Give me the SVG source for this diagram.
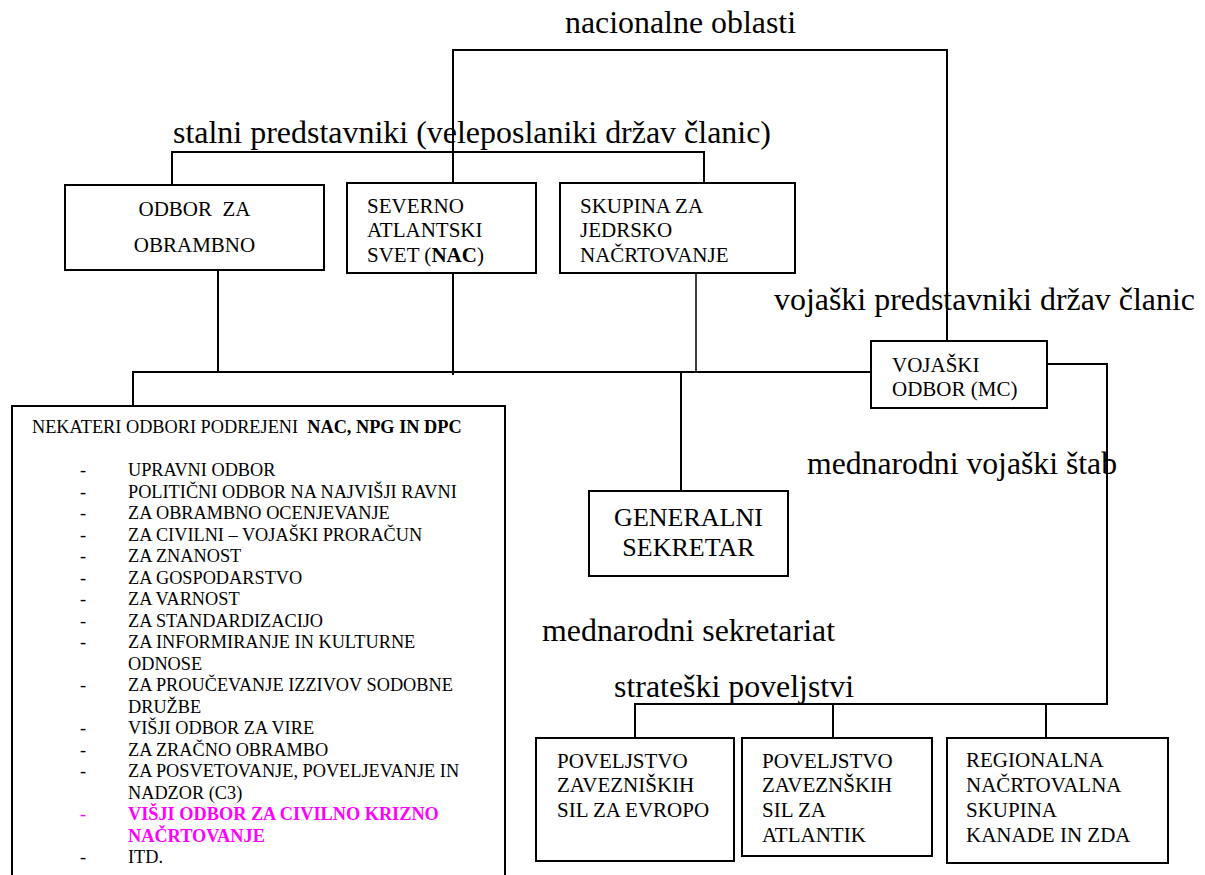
<svg xmlns="http://www.w3.org/2000/svg" width="1205" height="875" viewBox="0 0 1205 875">
<rect x="0" y="0" width="1205" height="875" fill="#fff"/>

<g id="connectors" fill="none" stroke="#000" stroke-width="2">
<path d="M453,183 V50 H947 V341"/>
<path d="M172,185 V152 H704 V183"/>
<path d="M218,270 V372"/>
<path d="M453,273 V375"/>
<path d="M696,270 V372" stroke-width="1.5"/>
<path d="M133,406 V372 H871"/>
<path d="M681,372 V491"/>
<path d="M1047,364 H1107 V704 H635 V738"/>
<path d="M833,704 V738"/>
<path d="M1046,704 V738"/>
</g>

<g id="label-nacionalne">
<text font-family="Times New Roman, Liberation Serif, serif" font-size="32" x="565" y="33" textLength="231" lengthAdjust="spacingAndGlyphs">nacionalne oblasti</text>
</g>
<g id="label-stalni">
<text font-family="Times New Roman, Liberation Serif, serif" font-size="32" x="173" y="143" textLength="598" lengthAdjust="spacingAndGlyphs">stalni predstavniki (veleposlaniki držav članic)</text>
</g>
<g id="label-vojaski-predstavniki">
<text font-family="Times New Roman, Liberation Serif, serif" font-size="32" x="774" y="310" textLength="421" lengthAdjust="spacingAndGlyphs">vojaški predstavniki držav članic</text>
</g>
<g id="label-mednarodni-stab">
<text font-family="Times New Roman, Liberation Serif, serif" font-size="32" x="807" y="474" textLength="310" lengthAdjust="spacingAndGlyphs">mednarodni vojaški štab</text>
</g>
<g id="label-mednarodni-sekretariat">
<text font-family="Times New Roman, Liberation Serif, serif" font-size="32" x="542" y="641" textLength="293" lengthAdjust="spacingAndGlyphs">mednarodni sekretariat</text>
</g>
<g id="label-strateski">
<text font-family="Times New Roman, Liberation Serif, serif" font-size="32" x="614" y="697" textLength="240" lengthAdjust="spacingAndGlyphs">strateški poveljstvi</text>
</g>

<g id="node-odbor-obrambno">
<rect x="65" y="185" width="259" height="85" fill="#fff" stroke="#000" stroke-width="2"/>
<text font-family="Times New Roman, Liberation Serif, serif" font-size="21" x="194.5" y="216" text-anchor="middle">ODBOR&#160; ZA</text>
<text font-family="Times New Roman, Liberation Serif, serif" font-size="21" x="194.5" y="252" text-anchor="middle">OBRAMBNO</text>
</g>

<g id="node-nac">
<rect x="347" y="183" width="189" height="90" fill="#fff" stroke="#000" stroke-width="2"/>
<text font-family="Times New Roman, Liberation Serif, serif" font-size="21" x="367" y="213">SEVERNO</text>
<text font-family="Times New Roman, Liberation Serif, serif" font-size="21" x="367" y="237">ATLANTSKI</text>
<text font-family="Times New Roman, Liberation Serif, serif" font-size="21" x="367" y="262">SVET (<tspan font-weight="bold">NAC</tspan>)</text>
</g>

<g id="node-npg">
<rect x="560" y="183" width="235" height="90" fill="#fff" stroke="#000" stroke-width="2"/>
<text font-family="Times New Roman, Liberation Serif, serif" font-size="21" x="580" y="213">SKUPINA ZA</text>
<text font-family="Times New Roman, Liberation Serif, serif" font-size="21" x="580" y="237">JEDRSKO</text>
<text font-family="Times New Roman, Liberation Serif, serif" font-size="21" x="580" y="262">NAČRTOVANJE</text>
</g>

<g id="node-mc">
<rect x="871" y="341" width="176" height="67" fill="#fff" stroke="#000" stroke-width="2"/>
<text font-family="Times New Roman, Liberation Serif, serif" font-size="21" x="892" y="372">VOJAŠKI</text>
<text font-family="Times New Roman, Liberation Serif, serif" font-size="21" x="892" y="396">ODBOR (MC)</text>
</g>

<g id="node-generalni">
<rect x="589" y="491" width="199" height="85" fill="#fff" stroke="#000" stroke-width="2"/>
<text font-family="Times New Roman, Liberation Serif, serif" font-size="26" x="688.5" y="526" text-anchor="middle">GENERALNI</text>
<text font-family="Times New Roman, Liberation Serif, serif" font-size="26" x="688.5" y="556" text-anchor="middle">SEKRETAR</text>
</g>

<g id="node-odbori">
<rect x="12" y="406" width="493" height="500" fill="#fff" stroke="#000" stroke-width="2"/>
<text font-family="Times New Roman, Liberation Serif, serif" font-size="18.3" x="32" y="433">NEKATERI ODBORI PODREJENI&#160; <tspan font-weight="bold">NAC, NPG IN DPC</tspan></text>
<g font-family="Times New Roman, Liberation Serif, serif" font-size="18.3">
<text x="80" y="476">-</text><text x="128" y="476">UPRAVNI ODBOR</text>
<text x="80" y="497.5">-</text><text x="128" y="497.5">POLITIČNI ODBOR NA NAJVIŠJI RAVNI</text>
<text x="80" y="519">-</text><text x="128" y="519">ZA OBRAMBNO OCENJEVANJE</text>
<text x="80" y="540.5">-</text><text x="128" y="540.5">ZA CIVILNI – VOJAŠKI PRORAČUN</text>
<text x="80" y="562">-</text><text x="128" y="562">ZA ZNANOST</text>
<text x="80" y="583.5">-</text><text x="128" y="583.5">ZA GOSPODARSTVO</text>
<text x="80" y="605">-</text><text x="128" y="605">ZA VARNOST</text>
<text x="80" y="626.5">-</text><text x="128" y="626.5">ZA STANDARDIZACIJO</text>
<text x="80" y="648">-</text><text x="128" y="648">ZA INFORMIRANJE IN KULTURNE</text>
<text x="128" y="669.5">ODNOSE</text>
<text x="80" y="691">-</text><text x="128" y="691">ZA PROUČEVANJE IZZIVOV SODOBNE</text>
<text x="128" y="712.5">DRUŽBE</text>
<text x="80" y="734">-</text><text x="128" y="734">VIŠJI ODBOR ZA VIRE</text>
<text x="80" y="755.5">-</text><text x="128" y="755.5">ZA ZRAČNO OBRAMBO</text>
<text x="80" y="777">-</text><text x="128" y="777">ZA POSVETOVANJE, POVELJEVANJE IN</text>
<text x="128" y="798.5">NADZOR (C3)</text>
<text x="80" y="820" fill="#ff00ff">-</text><text x="128" y="820" fill="#ff00ff" font-weight="bold">VIŠJI ODBOR ZA CIVILNO KRIZNO</text>
<text x="128" y="841.5" fill="#ff00ff" font-weight="bold">NAČRTOVANJE</text>
<text x="80" y="863">-</text><text x="128" y="863">ITD.</text>
</g>
</g>

<g id="node-saceur">
<rect x="536" y="738" width="198" height="123" fill="#fff" stroke="#000" stroke-width="2"/>
<text font-family="Times New Roman, Liberation Serif, serif" font-size="21" x="557" y="768">POVELJSTVO</text>
<text font-family="Times New Roman, Liberation Serif, serif" font-size="21" x="557" y="792">ZAVEZNIŠKIH</text>
<text font-family="Times New Roman, Liberation Serif, serif" font-size="21" x="557" y="817">SIL ZA EVROPO</text>
</g>

<g id="node-saclant">
<rect x="742" y="738" width="190" height="118" fill="#fff" stroke="#000" stroke-width="2"/>
<text font-family="Times New Roman, Liberation Serif, serif" font-size="21" x="762" y="768">POVELJSTVO</text>
<text font-family="Times New Roman, Liberation Serif, serif" font-size="21" x="762" y="792">ZAVEZNŠKIH</text>
<text font-family="Times New Roman, Liberation Serif, serif" font-size="21" x="762" y="817">SIL ZA</text>
<text font-family="Times New Roman, Liberation Serif, serif" font-size="21" x="762" y="842">ATLANTIK</text>
</g>

<g id="node-regionalna">
<rect x="947" y="738" width="221" height="125" fill="#fff" stroke="#000" stroke-width="2"/>
<text font-family="Times New Roman, Liberation Serif, serif" font-size="21" x="966" y="767">REGIONALNA</text>
<text font-family="Times New Roman, Liberation Serif, serif" font-size="21" x="966" y="792">NAČRTOVALNA</text>
<text font-family="Times New Roman, Liberation Serif, serif" font-size="21" x="966" y="817">SKUPINA</text>
<text font-family="Times New Roman, Liberation Serif, serif" font-size="21" x="966" y="842">KANADE IN ZDA</text>
</g>
</svg>
